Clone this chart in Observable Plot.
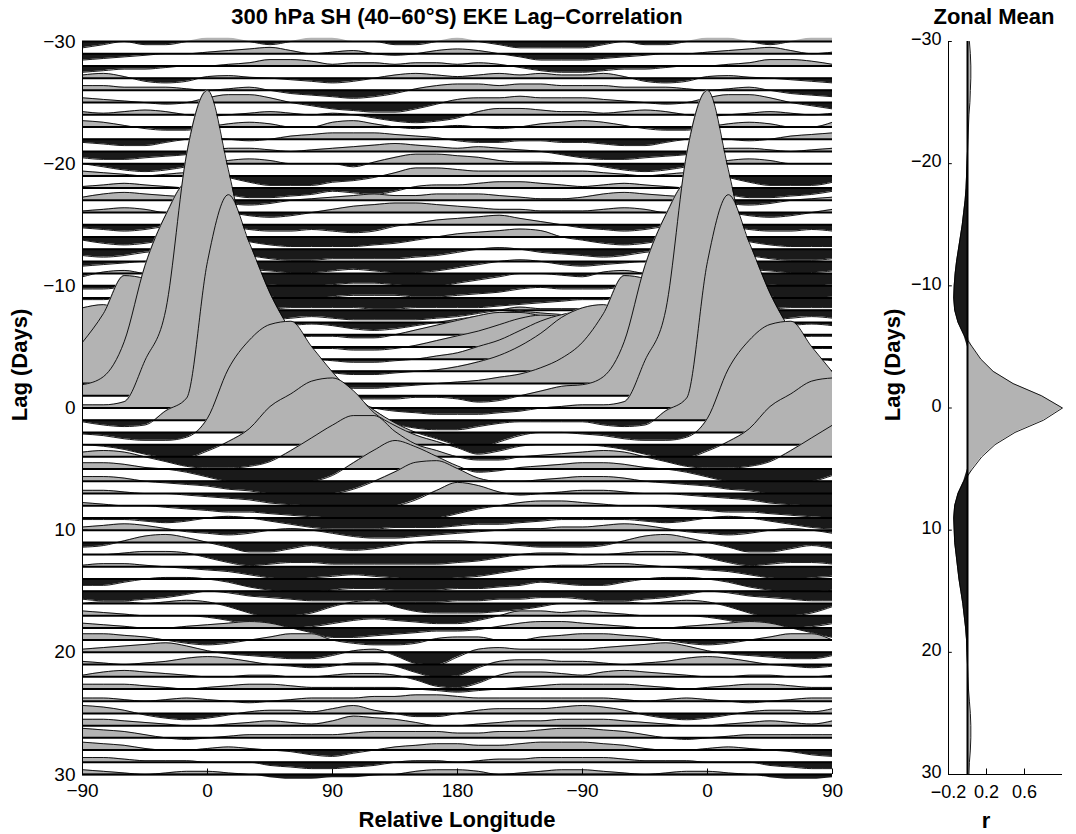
<!DOCTYPE html>
<html><head><meta charset="utf-8">
<script src="https://cdn.jsdelivr.net/npm/d3@7"></script>
<script src="https://cdn.jsdelivr.net/npm/@observablehq/plot@0.6"></script>
<style>
body{margin:0;background:#fff;}
#wrap{position:relative;width:1076px;height:834px;overflow:hidden;background:#fff;font-family:"Liberation Sans",Arial,Helvetica,sans-serif;}
#wrap svg{position:absolute;top:0;overflow:visible;}
.lbl{position:absolute;font-weight:bold;color:#000;white-space:nowrap;line-height:1;}
</style></head><body><div id="wrap"></div>
<script>
// relative longitudes of the data grid (degrees)
const lons = [-90,-75,-60,-45,-30,-15,0,15,30,45,60,75,90,105,120,135,150,165,180,195,210,225,240,255];
// correlation (x100) at each lag, one array per lag
const m30 = [-2,-1,0,-1,-1,0,1,1,0,-1,0,1,1,0,0,-1,-1,0,1,0,-1,-2,-2,-2];
const m29 = [-2,-1.5,-1,-0.5,0,0,0.5,1,1.5,2,1,0,0.5,1,0,-0.5,0,1,1.5,1,0,-1,-2,-2];
const m28 = [-2,-1.5,-1,-1,-0.5,0,0,0.5,1,2,2,1.5,0.5,1,1,0.5,1,1,0.5,1,0.5,-0.5,-1.5,-2];
const m27 = [1,1.5,0.5,-1,-1.5,-1,0.5,0.8,0.3,0,-0.5,-1,-1.5,-1,0,1,1.5,1,0.5,1,1.5,1,1.5,1];
const m26 = [1.5,1.5,1,1,1,0.5,0,0.5,1,0,-1,-1.5,-2,-2.5,-2,-1,0.5,1.5,2,2,1.5,2,2,1.5];
const m25 = [1.5,1,0.5,0,-0.5,0,1.5,2.5,2.5,1.5,0,-1,-2,-2.5,-3,-3,-2,-0.5,1,1.5,1.5,2,1.5,1.5];
const m24 = [1,0.5,1,1.5,1,0,-0.5,0,0.5,1,0.5,0,0.5,0,-1,-2,-2.5,-2,-1,1,2,2,1.5,1];
const m23 = [2,1.5,0.5,-0.5,-1,-1,0,1,1.5,1,0,0,1.5,2,1,0,-0.5,0,0.5,0,-0.5,0,1,1.5];
const m22 = [-1,-1.5,-2,-2,-1,0,0.5,0,-0.5,0,1,1.5,2,2,2,1.5,1,0.5,-0.5,-1,-1,-0.5,-0.5,-1];
const m21 = [-2,-2.5,-2.5,-2,-1.5,-1,0,1,1,0.5,0,0.5,1,1.5,2,2.5,2,1.5,1,1.5,1,0.5,0,-1];
const m20 = [0,-1,-2,-2.5,-2,-1,0,1,1.5,1,0,0,0,-1,0.5,2,3,3,2.5,2,1,0.5,0.5,0.3];
const m19 = [1.5,1,0.5,0,0.5,1,1,-0.5,-2,-3,-3,-3,-2,-1.5,-0.5,1,2.5,2.5,2,1.5,1.5,1.5,1.5,1.5];
const m18 = [0.5,1,1.5,1,0.5,0,-0.5,-2,-3,-3,-2.5,-2,-1,-1.5,-2,-1,0.5,1,1,1.5,2,2,1.5,1];
const m17 = [1,2,2.5,2,1.5,1,0,-1,-1.5,-1,0,0.5,1,1.5,2,1.5,1.5,2,2,2,1.5,1,0.5,0.5];
const m16 = [0.5,1,1.5,1,0,0,0.5,0,-1,-1.5,-1,0,1,2,2.5,3,3,2.5,2,1.5,1,1,0.5,0.5];
const m15 = [-1,-1.5,-2,-1.5,-0.5,0,0,-0.5,-1.5,-2,-2,-1.5,-2,-2.5,-2,-0.5,0.5,1.5,2,2.5,3,2,1,0];
const m14 = [-1,-2,-2.5,-2,-1,0,0.5,0,-1.5,-2.5,-3,-3,-3,-3,-2.5,-2,-1,0,1,1.5,2,2.5,2,0];
const m13 = [-2,-2.5,-2,-1,-0.5,0,0,-1,-2,-3,-3.5,-3.5,-3,-3,-3,-3,-2.5,-2,-1,0,0.5,0,-1,-1.5];
const m12 = [-1.5,-1,-0.5,0,0,0,-0.5,-1.5,-2.5,-3,-3.5,-3.5,-3,-2.5,-3,-3.5,-3.5,-3,-2,-1,0,0.5,0,-1];
const m11 = [-1,0.5,1,0,-0.5,-1,-1,-2,-3,-3.5,-4,-4,-3.5,-3,-3,-3.5,-4,-4,-3,-2,-1,0,0,-0.5];
const m10 = [-1,-1,-0.5,-1,-1.5,-2,-2,-2.5,-3,-3.5,-4,-4,-3.5,-3,-3,-3,-3.5,-3.5,-3,-2.5,-2,-1,-0.5,-1];
const m9 = [-0.5,-0.5,0,0,-0.5,-1.5,-2.5,-3,-3.5,-3.5,-3,-3,-3,-3,-3.5,-3.5,-3,-3,-3,-3,-2.5,-2,-1.5,-1];
const m8 = [0.5,1,1,0.5,0,-0.5,-1.5,-2.5,-3,-3,-2.5,-2,-2.5,-3,-3,-3,-3,-2.5,-2,-1,0,1,0.5,0.5];
const m7 = [2,2.5,2,1,0,-1,-2,-2.5,-2.5,-2,-1,-0.5,-1,-2,-2.5,-2,-1,0,1,2,3,3.5,3,2.5];
const m6 = [4,3,2,1,0,-1,-1.5,-2,-2,-1.5,-1,-0.5,-0.5,-1,-1,0,1.5,3,4.5,6,7,7,6,5];
const m5 = [8,6,4,2,1,0,-1,-1.5,-1.5,-1,-0.5,-0.5,-0.5,-1,-1,-0.5,0.5,2,3.5,5,7,9,10,9.5];
const m4 = [15,12,8,4,2,0.5,-0.5,-1,-1,-0.5,0,0,-0.5,-1,-1,-0.5,0,1,2,4,6,9,12,14];
const m3 = [20,21,17,10,5,2,0,-1,-1,-0.5,0,0,-0.5,-1,-1,-0.5,0,0.5,1.5,3,5,8,12,17];
const m2 = [13,22,34,33,20,9,4,1,0,-0.5,0,0,-1,-1.5,-1.5,-1,-0.5,0,0.5,1,2,3,5,8];
const m1 = [3.5,6,17,41,57,67,58,38,20,9,4,1,-0.5,-1,-1,-1,-0.5,-0.5,-1,-2,-1.5,0,1.5,3];
const z0 = [1,1,2,15,31,80,100,75,45,28,17,10,5,2,0,-1,-1.5,-2,-2,-2,-1.5,-1,0,0.5];
const p1 = [-0.5,-1.5,-2,-1.5,3,7,50,71,56,40,28,18,11,6,3,-1,-2.5,-3,-3,-2,-1,-0.5,-0.5,-0.5];
const p2 = [-0.5,-1,-2,-2.5,-2.5,-1.5,4.5,20,29,34,35,27,19,12,7,3,0,-2,-4,-5,-3,-1,0,0];
const p3 = [0,-0.5,-1.5,-3,-4,-4,-2,1,5,12,16,20,21,17,10,6,3,1,-1,-3,-2,-0.5,0,0];
const p4 = [1.5,2,1.5,0,-1.5,-3,-3.5,-3.5,-3,-1.5,2,6,10,13,13,8,4,2,0,-1,-1,0,0.5,1];
const p5 = [2,2,1.5,0.5,0,-1,-2.5,-4,-5,-5,-5,-4,-2,2,6,9,7,4,1,-1,-0.5,0.5,1,1.5];
const p6 = [1.5,1.5,1,0,-0.5,-1,-1.5,-2.5,-3,-4,-4.5,-4.5,-4,-2.5,0,3,6,6.5,4,1,0,0,0.5,1];
const p7 = [1,1,0.5,0,0,-0.5,-1,-1.5,-2,-3,-3.5,-4,-4.5,-5,-5,-4,-2,1,3.5,2.5,0.5,-0.5,0,0.5];
const p8 = [1,0.5,0,0,-0.5,-1,-1.5,-2,-2,-2.5,-3,-3.5,-4,-4.5,-5,-5.5,-5,-4,-2.5,-1,0,1,1.5,1.5];
const p9 = [-0.5,-0.5,-0.5,-1,-1.5,-1,0,0.5,0,-1,-2,-3,-3.5,-3.5,-3.5,-3,-3,-3,-2.5,-2,-2,-1.5,-1,-0.5];
const p10 = [1,1.5,2,1.5,0.5,-0.5,-1,-1.5,-1,0,0.5,0,-1,-2,-2.5,-2.5,-2,-1.5,-1,-0.5,0,0.5,0.5,1];
const p11 = [-1.5,-1,0.5,2,2.5,1.5,0,-1.5,-3,-3,-2,-1,-2,-2.5,-2,-1,0,0.5,0.5,0,-0.5,-1,-1.5,-1.5];
const p12 = [0,0,0.5,1,1,0.5,-1,-2.5,-3.5,-3,-2.5,-2.5,-3,-3,-3,-3,-3,-3,-2.5,-2,-1,0,0.5,0.5];
const p13 = [0.5,1,1,0.5,0,-0.5,-1,-1.5,-2.5,-3.5,-4,-3.5,-3,-2.5,-3,-3.5,-4,-4,-3.5,-3,-2,-1,0,0.5];
const p14 = [-2,-2,-1,0,0.5,0.5,0,-1,-2.5,-3.5,-4,-4,-3.5,-3,-3,-3.5,-3.5,-3.5,-3,-3,-2.5,-2,-1,-1.5];
const p15 = [-2.5,-3,-3,-2.5,-2,-1,0,-0.5,-1.5,-2,-2.5,-3,-3,-3,-3.5,-3.5,-3.5,-3.5,-3,-3,-2.5,-2.5,-2,-2];
const p16 = [0,0.5,0.5,0,0.5,1,0.5,-1,-3,-4.5,-4,-3,-1,0.5,1,-1,-2.5,-3,-3,-3,-2.5,-2,-1,0];
const p17 = [1.5,1,0.5,0,0,0,-0.5,-1.5,-3,-4,-4,-3.5,-2.5,-1.5,-1,-1.5,-2,-2.5,-2.5,-1.5,0,1.5,1.5,1];
const p18 = [1.5,1,0.5,0,0,0.5,1,1.5,2,1.5,0,-1.5,-3,-3,-2.5,-2,-1.5,-1,-1,-0.5,0.5,1.5,2,2];
const p19 = [2,2,1.5,1,0,-1,-1.5,-1,0,1,2,2,0,-1,-1.5,-1.5,-1,0.5,1,1,0,0,1,1.5];
const p20 = [1,1.5,2,2.5,3,2,0.5,-0.5,-1,-1.5,-2,-2,-1,0.5,1,-1,-3.5,-4,-1.5,1,1.5,1,1,1];
const p21 = [1,0.5,0,0.5,1,2,2.5,2,1,0,-0.5,-1,-0.5,0.5,0.5,-0.5,-2.5,-4,-3.5,-1,1,1.5,1.5,1];
const p22 = [0.5,1.5,2,1.5,1,0.5,0,0,0.5,0.5,0,0,0.5,1,1,0.5,-1,-3,-3.5,-2,0.5,1.5,1.5,1];
const p23 = [1.5,1.5,1.5,1,0.5,0,0.5,1,1.5,1.5,1,0.5,0.5,0.5,0.5,0.5,0,-0.5,-1,-0.5,0,0.5,1,1.5];
const p24 = [1,1,0.5,0,0.5,1,0.5,0,-0.5,0,0.5,1,1,1,1.5,1.5,2,2,1.5,1,1,1,1,1];
const p25 = [2.5,2,1,-0.5,-1.5,-2,-1.5,-0.5,0.5,1,1,0.5,1.5,2.5,1,0,-1,-1,0,1,1.5,1.5,1.5,2];
const p26 = [2,2,1.5,1,0.5,0,0,0.5,1,1.5,1,0.5,1.5,3,2.5,2,1,0,0,0.5,1,1.5,1.5,2];
const p27 = [3,2.5,2,1,0,-0.5,0,0.5,1,1,1,1,1,1.5,2,2,2,2,1.5,1.5,2,2,2.5,3];
const p28 = [2.5,2,1.5,0.5,0,0,0.5,1,0.5,0,-0.5,-1.5,-2,-1,0,1,1.5,2,2,1.5,1.5,2,2.5,2.5];
const p29 = [1.5,1.5,1,0.5,0.5,0.5,0,0,0,-1,-1.5,-2,-2,-1.5,-1,0,0.5,0.5,0,0.5,1,1,1.5,1.5];
const p30 = [1.5,1,0.5,0,0.5,1,1,0.5,0,-1,-1.5,-1.5,-1,-1,-0.5,0,1,1.5,1.5,1,0,0.5,1,1.5];

const lagValues = [-30,-29,-28,-27,-26,-25,-24,-23,-22,-21,-20,-19,-18,-17,-16,-15,-14,-13,-12,-11,-10,-9,-8,-7,-6,-5,-4,-3,-2,-1,0,1,2,3,4,5,6,7,8,9,10,11,12,13,14,15,16,17,18,19,20,21,22,23,24,25,26,27,28,29,30];
const rows = [m30,m29,m28,m27,m26,m25,m24,m23,m22,m21,m20,m19,m18,m17,m16,m15,m14,m13,m12,m11,m10,m9,m8,m7,m6,m5,m4,m3,m2,m1,z0,p1,p2,p3,p4,p5,p6,p7,p8,p9,p10,p11,p12,p13,p14,p15,p16,p17,p18,p19,p20,p21,p22,p23,p24,p25,p26,p27,p28,p29,p30];

// zonal-mean lag correlation
const zonalR = [0.02,0.03,0.035,0.035,0.03,0.025,0.015,0.01,0.005,0,-0.005,-0.01,-0.015,-0.025,-0.04,-0.055,-0.075,-0.095,-0.115,-0.13,-0.14,-0.145,-0.135,-0.10,-0.04,0.05,0.14,0.27,0.48,0.78,1.0,0.80,0.50,0.29,0.15,0.05,-0.04,-0.10,-0.135,-0.145,-0.14,-0.135,-0.12,-0.105,-0.09,-0.07,-0.05,-0.035,-0.02,-0.01,-0.005,0,0.005,0.01,0.02,0.03,0.035,0.035,0.03,0.02,0.015];

// ticks
const xTickValues = [-90,0,90,180,270,360,450];
const xTickLabels = ["\u221290","0","90","180","\u221290","0","90"];
const yTickValues = [-30,-20,-10,0,10,20,30];
const rTickValues = [-0.2,0.2,0.6];

const SCALE = 0.26;           // lag units per 0.01 of r
const GRAY = "#b3b3b3", DARK = "#1a1a1a";
const FONT = "'Liberation Sans', Arial, Helvetica, sans-serif";
const fmt = d => d < 0 ? "\u2212" + (-d) : String(d);

function seriesFor(row, lag) {
  const out = [];
  for (let x = -90; x <= 450; x += 15) {
    const lon = x >= 270 ? x - 360 : x;
    const v = row[lons.indexOf(lon)];
    out.push({x, base: lag, v, y: lag - SCALE * v});
  }
  return out;
}

const hasDiff = typeof Plot.differenceY === "function";
const marks = [];
rows.forEach((row, i) => {
  const lag = lagValues[i];
  const s = seriesFor(row, lag);
  if (hasDiff) {
    marks.push(Plot.differenceY(s, {x: "x", y1: "base", y2: "y", positiveFill: DARK, negativeFill: GRAY,
      positiveFillOpacity: 1, negativeFillOpacity: 1, stroke: "#000", strokeWidth: 0.9, curve: "monotone-x"}));
  } else {
    marks.push(Plot.areaY(s, {x: "x", y1: "base", y2: d => d.base - SCALE * Math.max(d.v, 0), fill: GRAY, curve: "monotone-x"}));
    marks.push(Plot.areaY(s, {x: "x", y1: "base", y2: d => d.base - SCALE * Math.min(d.v, 0), fill: DARK, curve: "monotone-x"}));
    marks.push(Plot.lineY(s, {x: "x", y: "y", stroke: "#000", strokeWidth: 0.9, curve: "monotone-x"}));
  }
  marks.push(Plot.ruleY([lag], {stroke: "#000", strokeWidth: 2}));
});
marks.push(Plot.ruleX([-90], {stroke: "#000", strokeWidth: 1}));
marks.push(Plot.ruleY([30], {stroke: "#000", strokeWidth: 1.5}));
marks.push(Plot.ruleX(xTickValues, {y1: 30, y2: 29.55, stroke: "#000", strokeWidth: 1}));
marks.push(Plot.ruleY(yTickValues, {x1: -90, x2: -86, stroke: "#000", strokeWidth: 1}));
marks.push(Plot.axisX(xTickValues, {tickSize: 0, tickPadding: 9, label: null,
  tickFormat: d => xTickLabels[xTickValues.indexOf(d)]}));
marks.push(Plot.axisY(yTickValues, {tickSize: 0, tickPadding: 7, label: null, tickFormat: fmt}));

const main = Plot.plot({
  width: 860, height: 834,
  marginLeft: 82, marginRight: 28, marginTop: 41, marginBottom: 60,
  x: {domain: [-90, 450]},
  y: {domain: [-30, 30], reverse: true},
  style: {fontFamily: FONT, fontSize: "19px", color: "#000", background: "transparent"},
  marks
});
main.style.left = "0px";

const zdata = lagValues.map((lag, i) => ({lag, r: zonalR[i]}));
const zonal = Plot.plot({
  width: 216, height: 834,
  marginLeft: 88, marginRight: 14, marginTop: 41, marginBottom: 60,
  x: {domain: [-0.2, 1.0]},
  y: {domain: [-30, 30], reverse: true},
  style: {fontFamily: FONT, fontSize: "18px", color: "#000", background: "transparent"},
  marks: [
    Plot.areaX(zdata, {y: "lag", x1: 0, x2: d => Math.max(d.r, 0), fill: GRAY}),
    Plot.areaX(zdata, {y: "lag", x1: 0, x2: d => Math.min(d.r, 0), fill: DARK}),
    Plot.ruleX([0], {stroke: "#000", strokeWidth: 2}),
    Plot.lineX(zdata, {x: "r", y: "lag", stroke: "#000", strokeWidth: 0.9}),
    Plot.ruleX([-0.2], {stroke: "#000", strokeWidth: 1}),
    Plot.ruleY([30], {x1: -0.2, x2: 1.0, stroke: "#000", strokeWidth: 1}),
    Plot.ruleX(rTickValues, {y1: 30, y2: 29.55, stroke: "#000"}),
    Plot.ruleY(yTickValues, {x1: -0.2, x2: -0.16, stroke: "#000"}),
    Plot.axisX(rTickValues, {tickSize: 0, tickPadding: 11, label: null, tickFormat: fmt}),
    Plot.axisY(yTickValues, {tickSize: 0, tickPadding: 7, label: null, tickFormat: fmt, dy: -2})
  ]
});
zonal.style.left = "860px";

const wrap = document.getElementById("wrap");
wrap.appendChild(main);
wrap.appendChild(zonal);

function label(text, cx, cy, size, rot) {
  const d = document.createElement("div");
  d.className = "lbl";
  d.textContent = text;
  d.style.fontSize = size + "px";
  d.style.left = cx + "px";
  d.style.top = cy + "px";
  d.style.transform = "translate(-50%,-50%)" + (rot ? " rotate(-90deg)" : "");
  wrap.appendChild(d);
}
label("300 hPa SH (40\u201360\u00b0S) EKE Lag\u2013Correlation", 457, 17, 22, false);
label("Zonal Mean", 994, 17, 22, false);
label("Relative Longitude", 457, 820, 22, false);
label("r", 986, 821, 22, false);
label("Lag (Days)", 20, 365, 22, true);
label("Lag (Days)", 893, 365, 22, true);
</script></body></html>
